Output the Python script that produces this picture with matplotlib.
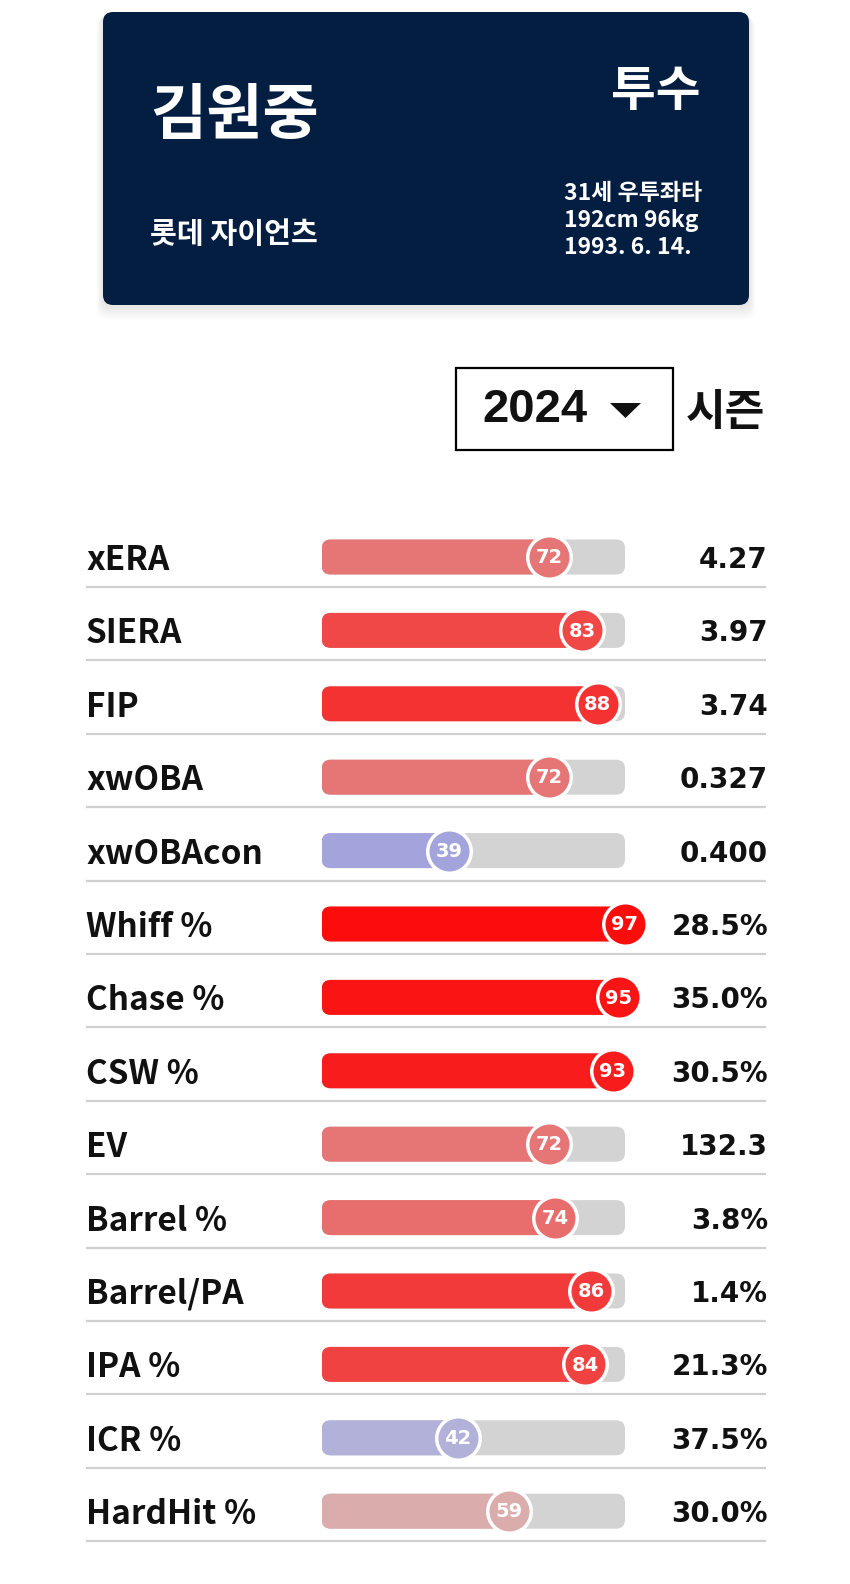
import matplotlib
matplotlib.use("Agg")
import matplotlib.pyplot as plt
from matplotlib.patches import FancyBboxPatch, Polygon, Rectangle
from matplotlib.colors import LinearSegmentedColormap

# ---------------- data ----------------
player_name = "김원중"
team = "롯데 자이언츠"
position = "투수"
info_lines = ["31세 우투좌타", "192cm 96kg", "1993. 6. 14."]
season = "2024"
season_label = "시즌"

metrics = ["xERA", "SIERA", "FIP", "xwOBA", "xwOBAcon", "Whiff %", "Chase %",
           "CSW %", "EV", "Barrel %", "Barrel/PA", "IPA %", "ICR %", "HardHit %"]
percentiles = [72, 83, 88, 72, 39, 97, 95, 93, 72, 74, 86, 84, 42, 59]
values = ["4.27", "3.97", "3.74", "0.327", "0.400", "28.5%", "35.0%",
          "30.5%", "132.3", "3.8%", "1.4%", "21.3%", "37.5%", "30.0%"]

# ---------------- style ----------------
W, H = 850, 1584
NAVY = "#041E42"
TRACK = "#D3D3D3"
cmap = LinearSegmentedColormap.from_list("pct", ["#0000FF", "#D3D3D3", "#FF0000"])
KR = ["Noto Sans CJK KR", "DejaVu Sans"]

fig = plt.figure(figsize=(W / 100, H / 100), dpi=100)
fig.patch.set_facecolor("white")
ax = fig.add_axes([0, 0, 1, 1])
ax.set_xlim(0, W)
ax.set_ylim(H, 0)
ax.axis("off")

# ---------- header card ----------
cx, cy, cw, ch = 103, 12, 646, 293
for k in range(8):
    off = 2 + k * 1.2
    ax.add_patch(FancyBboxPatch((cx - off * 0.6, cy + off * 0.4), cw + off * 1.2, ch + off,
                                boxstyle="round,pad=0,rounding_size=12",
                                fc="#000000", ec="none", alpha=0.010, zorder=1))
ax.add_patch(FancyBboxPatch((cx, cy), cw, ch, boxstyle="round,pad=0,rounding_size=10",
                            fc=NAVY, ec="none", zorder=2))
ax.text(150, 116, player_name, color="white", fontsize=44, fontweight="bold",
        family=KR, ha="left", va="center", zorder=3)
ax.text(150, 234, team, color="white", fontsize=21, fontweight="bold",
        family=KR, ha="left", va="center", zorder=3)
ax.text(701, 92, position, color="white", fontsize=35, fontweight="bold",
        family=KR, ha="right", va="center", zorder=3)
for j, line in enumerate(info_lines):
    ax.text(564, 194 + j * 27, line, color="white", fontsize=16.5, fontweight="bold",
            family=KR, ha="left", va="center", zorder=3)

# ---------- season selector ----------
ax.add_patch(Rectangle((456, 368), 217, 82, fc="white", ec="black", lw=1.6, zorder=2))
ax.text(535, 410, season, fontsize=34, fontweight="bold", family="Liberation Sans",
        ha="center", va="center", color="#111111", zorder=3)
ax.add_patch(Polygon([[610, 403], [641, 403], [625.5, 418]], closed=True,
                     fc="#111111", ec="none", zorder=3))
ax.text(686, 412, season_label, fontsize=31, fontweight="bold", family=KR,
        ha="left", va="center", color="#111111", zorder=3)

# ---------- rows ----------
y0, step = 557, 73.4
n = len(metrics)
for i, (m, v) in enumerate(zip(metrics, values)):
    yc = y0 + i * step
    ax.text(86, yc + 3.5, m, fontsize=24, fontweight="bold", family=KR,
            ha="left", va="center", color="#111111")
    ax.text(768, yc + 3, v, fontsize=20, fontweight="bold", family="DejaVu Sans",
            ha="right", va="center", color="#111111")
    ax.plot([86, 766], [yc + 30, yc + 30], color="#CFCFCF", lw=1.6,
            solid_capstyle="butt", zorder=1)

# ---------- bars axis (percentile scale) ----------
px_left, px_right = 321.7, 625.0
x_at0, px_per_unit = 330.3, 3.037
xmin = (px_left - x_at0) / px_per_unit
xmax = (px_right - x_at0) / px_per_unit
top_px = y0 - step / 2
bot_px = y0 + (n - 1) * step + step / 2
bx = fig.add_axes([px_left / W, 1 - bot_px / H, (px_right - px_left) / W, (bot_px - top_px) / H])
bx.set_xlim(xmin, xmax)
bx.set_ylim(n - 0.5, -0.5)
bx.axis("off")
bx.patch.set_alpha(0)

bar_h = 35 / step
asp = px_per_unit / step
r = 9 / px_per_unit
for i, p in enumerate(percentiles):
    col = cmap(p / 100)
    bx.add_patch(FancyBboxPatch((xmin, i - bar_h / 2), xmax - xmin, bar_h,
                                boxstyle=f"round,pad=0,rounding_size={r}",
                                mutation_aspect=asp, fc=TRACK, ec="none", zorder=1))
    bx.add_patch(FancyBboxPatch((xmin, i - bar_h / 2), p - xmin, bar_h,
                                boxstyle=f"round,pad=0,rounding_size={r}",
                                mutation_aspect=asp, fc=col, ec="none", zorder=2))
    bx.scatter([p], [i], s=980, color=col, edgecolors="white", linewidths=2.5,
               zorder=3, clip_on=False)
    bx.text(p, i + 0.01, str(p), color="white", fontsize=14, fontweight="bold",
            family="DejaVu Sans", ha="center", va="center", zorder=4, clip_on=False)

fig.savefig("out.png", dpi=100, facecolor="white")
